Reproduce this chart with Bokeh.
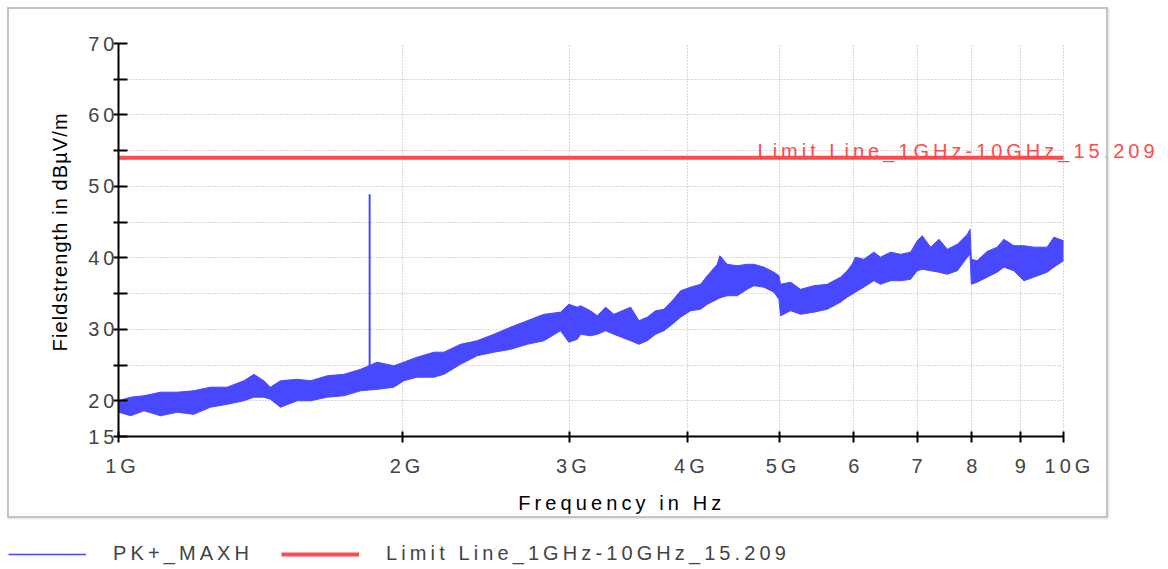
import math

from bokeh.embed import file_html
from bokeh.layouts import column, row
from bokeh.models import FixedTicker, InlineStyleSheet, Label, Legend, LegendItem, Range1d
from bokeh.plotting import figure
from bokeh.resources import INLINE

# --- measured trace: peak-hold envelope (GHz, dBuV/m) -----------------------
freq_ghz = [
    1.001, 1.030, 1.064, 1.108, 1.154, 1.201, 1.251, 1.303, 1.357, 1.391,
    1.425, 1.448, 1.484, 1.546, 1.597, 1.663, 1.732, 1.804, 1.878, 1.956,
    2.004, 2.070, 2.157, 2.210, 2.301, 2.396, 2.495, 2.599, 2.707, 2.819,
    2.936, 2.996, 3.058, 3.083, 3.158, 3.211, 3.277, 3.344, 3.483, 3.554,
    3.627, 3.701, 3.777, 3.855, 3.934, 4.031, 4.130, 4.198, 4.301, 4.329,
    4.407, 4.516, 4.627, 4.703, 4.819, 4.938, 4.999, 5.019, 5.143, 5.270,
    5.443, 5.623, 5.808, 5.903, 5.975, 6.024, 6.147, 6.300, 6.403, 6.562,
    6.724, 6.890, 7.003, 7.088, 7.234, 7.383, 7.535, 7.721, 7.912, 7.963,
    7.989, 8.101, 8.302, 8.507, 8.648, 8.860, 9.079, 9.302, 9.609, 9.768,
    10.0,
]
upper_db = [
    20.0, 20.5, 20.7, 21.2, 21.2, 21.4, 21.9, 21.9, 22.8, 23.7,
    22.8, 21.9, 22.8, 23.0, 22.8, 23.5, 23.7, 24.4, 25.4, 24.9,
    25.4, 26.1, 26.8, 26.8, 27.9, 28.4, 29.3, 30.3, 31.2, 32.1,
    32.4, 33.5, 33.1, 33.3, 32.6, 31.9, 33.1, 32.1, 33.1, 31.2,
    31.7, 32.6, 32.8, 34.0, 35.4, 35.9, 36.3, 37.5, 39.1, 40.3,
    39.1, 38.9, 39.1, 39.1, 38.7, 38.0, 37.5, 36.3, 36.6, 35.6,
    36.1, 36.3, 37.3, 38.2, 39.1, 40.1, 39.8, 40.8, 40.1, 40.8,
    40.5, 40.8, 42.4, 43.1, 41.5, 42.6, 41.2, 41.9, 43.3, 44.0,
    39.8, 39.6, 40.9, 41.5, 42.6, 41.7, 41.7, 41.5, 41.5, 42.9,
    42.4,
]
lower_db = [
    18.4, 17.9, 18.6, 17.9, 18.4, 18.1, 19.1, 19.5, 20.0, 20.5,
    20.5, 20.2, 19.1, 20.0, 20.0, 20.5, 20.7, 21.4, 21.6, 21.9,
    22.8, 23.3, 23.3, 23.7, 25.1, 26.3, 26.8, 27.2, 27.9, 28.4,
    29.8, 28.2, 28.6, 29.3, 29.1, 29.3, 29.8, 29.3, 28.4, 27.9,
    28.4, 29.3, 29.8, 30.7, 31.7, 32.6, 32.8, 33.5, 34.2, 34.4,
    34.7, 34.7, 35.6, 36.1, 35.9, 35.2, 34.2, 31.9, 32.6, 32.1,
    32.4, 32.8, 33.8, 34.5, 34.9, 35.2, 35.9, 36.8, 36.3, 36.8,
    36.8, 37.0, 38.2, 38.4, 38.2, 38.0, 37.7, 38.2, 40.1, 40.5,
    36.3, 36.6, 37.3, 38.0, 38.7, 38.2, 36.8, 37.3, 38.0, 38.7,
    39.6,
]

# narrow emission peak
spike_freq_ghz = [1.844]
spike_base_db = [24.0]
spike_top_db = [48.9]

# FCC 15.209 limit, 1 GHz - 10 GHz
limit_freq_ghz = [1.0, 10.0]
limit_db = [54.0, 54.0]

x_ticks = [1, 2, 3, 4, 5, 6, 7, 8, 9, 10]
x_tick_labels = ["1G", "2G", "3G", "4G", "5G", "6", "7", "8", "9", "10G"]
y_ticks = [15, 20, 30, 40, 50, 60, 70]
y_minor_ticks = [25, 35, 45, 55, 65]

FONT = "Liberation Sans"
BLUE = "#4848FF"
RED = "#FF4B4B"
GRID_GREY = "#b0b0b0"

PAGE_W, PAGE_H = 1168, 569
LEFT_W = 75            # strip holding the vertical axis title
TOP_H = 490            # height of the plotting row
FRAME_LEFT = 118       # page x of the 1 GHz axis
FRAME_TOP, FRAME_BOTTOM = 43, 436
DECADE_PX = 945        # page width of one decade (1 GHz .. 10 GHz)

# --- left strip carrying the vertical axis title -----------------------------
# its frame lines up with the main frame, so data y here equals page y
side = figure(width=LEFT_W, height=TOP_H, x_range=Range1d(0, LEFT_W),
              y_range=Range1d(FRAME_BOTTOM, FRAME_TOP), title_location=None,
              x_axis_location=None, y_axis_location=None, toolbar_location=None,
              output_backend="svg", min_border=0, outline_line_color=None)
side.grid.visible = False
side.styles = {"letter-spacing": "1.1px"}
side.add_layout(Label(x=59, y=244, text="Fieldstrength in dBµV/m", angle=math.pi / 2,
                      text_align="center", text_baseline="middle",
                      text_font=FONT, text_font_size="20px", text_color="black"))

# --- main spectrum plot -------------------------------------------------------
main_w = PAGE_W - LEFT_W
frame_w = main_w - (FRAME_LEFT - LEFT_W)
x_end = 10 ** (frame_w / DECADE_PX)    # frame runs on past 10 GHz so the limit caption fits

p = figure(width=main_w, height=TOP_H, x_axis_type="log",
           x_range=Range1d(1, x_end), y_range=Range1d(15, 70), title_location=None,
           toolbar_location=None, output_backend="svg",
           min_border_left=FRAME_LEFT - LEFT_W, min_border_right=0,
           min_border_top=FRAME_TOP, min_border_bottom=TOP_H - FRAME_BOTTOM,
           outline_line_color=None, background_fill_color="white", border_fill_color="white")
p.styles = {"letter-spacing": "4px"}

p.varea(x=freq_ghz, y1=lower_db, y2=upper_db, fill_color=BLUE)
p.line(freq_ghz, upper_db, line_color=BLUE, line_width=1)
p.line(freq_ghz, lower_db, line_color=BLUE, line_width=1)
p.segment(x0=spike_freq_ghz, y0=spike_base_db, x1=spike_freq_ghz, y1=spike_top_db,
          line_color=BLUE, line_width=2)
p.line(limit_freq_ghz, limit_db, line_color=RED, line_width=4)

p.add_layout(Label(x=4.745, y=55.0, text="Limit Line_1GHz-10GHz_15.209",
                   text_align="left", text_baseline="alphabetic",
                   text_font=FONT, text_font_size="20px", text_color=RED))

xa = p.xaxis[0]
xa.bounds = (1, 10)
xa.ticker = FixedTicker(ticks=x_ticks)
xa.major_label_overrides = dict(zip(x_ticks, x_tick_labels))
xa.major_label_text_font = FONT
xa.major_label_text_font_size = "20px"
xa.major_label_standoff = 12
xa.axis_line_width = 2
xa.major_tick_line_width = 2
xa.major_tick_in = 5
xa.major_tick_out = 6
xa.minor_tick_line_color = None

ya = p.yaxis[0]
ya.ticker = FixedTicker(ticks=y_ticks, minor_ticks=y_minor_ticks)
ya.major_label_text_font = FONT
ya.major_label_text_font_size = "20px"
ya.major_label_standoff = 3
ya.axis_line_width = 2
ya.major_tick_line_width = 2
ya.minor_tick_line_width = 2
ya.major_tick_in = 9
ya.major_tick_out = 5
ya.minor_tick_in = 9
ya.minor_tick_out = 5

p.xgrid.ticker = FixedTicker(ticks=x_ticks)
p.xgrid.grid_line_color = GRID_GREY
p.xgrid.grid_line_dash = "1 2"
p.ygrid.ticker = FixedTicker(ticks=y_ticks, minor_ticks=y_minor_ticks)
p.ygrid.grid_line_color = GRID_GREY
p.ygrid.grid_line_dash = "1 2"
p.ygrid.minor_grid_line_color = GRID_GREY
p.ygrid.minor_grid_line_dash = "1 2"
p.ygrid.cross_bounds = (1, 10)

# --- bottom strip: horizontal axis title and legend -----------------------------
lg = figure(width=PAGE_W, height=PAGE_H - TOP_H, x_range=Range1d(0, PAGE_W),
            y_range=Range1d(PAGE_H, TOP_H), title_location=None,
            x_axis_location=None, y_axis_location=None, toolbar_location=None,
            output_backend="svg", min_border=0, outline_line_color=None)
lg.grid.visible = False
lg.styles = {"letter-spacing": "4.1px"}
lg.add_layout(Label(x=FRAME_LEFT + DECADE_PX / 2, y=502, text="Frequency in Hz",
                    text_align="center", text_baseline="alphabetic",
                    text_font=FONT, text_font_size="20px", text_color="black"))
# same series as above; they sit outside this strip's ranges, only their key shows
r_trace = lg.line(freq_ghz, upper_db, line_color=BLUE, line_width=1.5)
r_limit = lg.line(limit_freq_ghz, limit_db, line_color=RED, line_width=4)
legend = Legend(items=[LegendItem(label="PK+_MAXH", renderers=[r_trace]),
                       LegendItem(label="Limit Line_1GHz-10GHz_15.209", renderers=[r_limit])],
                orientation="horizontal", location=(8, 4), padding=0, margin=0,
                spacing=28, glyph_width=78, glyph_height=20, label_height=20,
                label_standoff=27, label_text_font=FONT, label_text_font_size="20px",
                border_line_color=None, background_fill_alpha=0)
lg.add_layout(legend)

layout = column(row(side, p), lg)
# light grey panel border around the chart area
layout.stylesheets = [InlineStyleSheet(css="""
:host { position: relative; }
:host::after {
  content: ""; position: absolute; left: 7px; top: 7px; width: 1101px; height: 511px;
  box-sizing: border-box; border: 2px solid #c4c4c4; pointer-events: none;
  box-shadow: 1px 1px 2px rgba(0, 0, 0, 0.12);
}
""")]
open("out.html", "w").write(file_html(layout, INLINE))
